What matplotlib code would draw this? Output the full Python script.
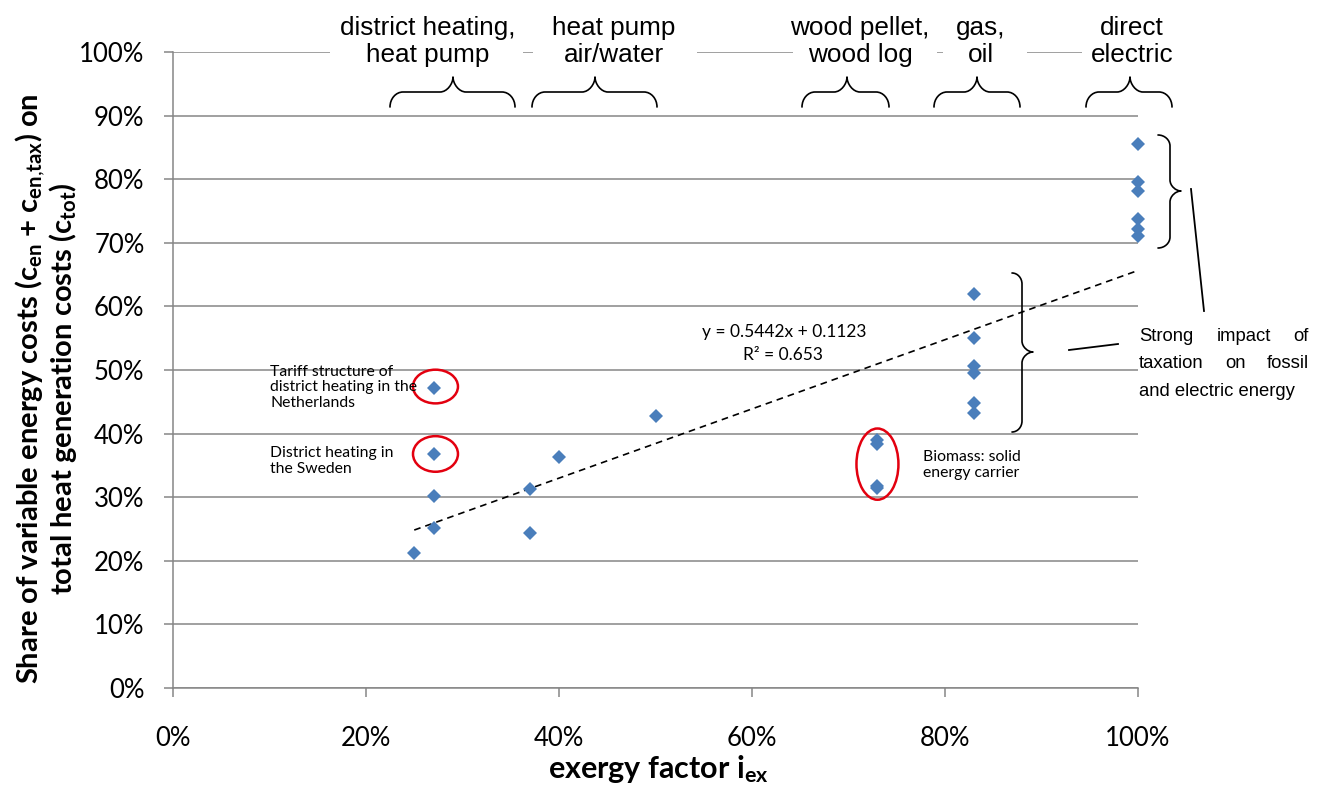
import matplotlib
matplotlib.use("Agg")
import matplotlib.pyplot as plt
from matplotlib.path import Path
from matplotlib.patches import PathPatch, Ellipse, Rectangle
from matplotlib.ticker import PercentFormatter, MultipleLocator

plt.rcParams["font.family"] = ["Lato", "DejaVu Sans"]
plt.rcParams["mathtext.fontset"] = "custom"
plt.rcParams["mathtext.rm"] = "Lato"
plt.rcParams["mathtext.it"] = "Lato:italic"
plt.rcParams["mathtext.bf"] = "Lato:bold"

# ---- data: exergy factor vs. share of variable energy costs ----
dh_hp_x = [0.25, 0.27, 0.27, 0.27, 0.27]
dh_hp_y = [0.212, 0.472, 0.368, 0.302, 0.252]
hp_air_x = [0.37, 0.37, 0.40, 0.50]
hp_air_y = [0.313, 0.244, 0.363, 0.428]
wood_x = [0.73, 0.73, 0.73, 0.73]
wood_y = [0.390, 0.384, 0.318, 0.314]
gas_oil_x = [0.83, 0.83, 0.83, 0.83, 0.83, 0.83]
gas_oil_y = [0.619, 0.551, 0.506, 0.496, 0.448, 0.433]
electric_x = [1.0, 1.0, 1.0, 1.0, 1.0, 1.0]
electric_y = [0.855, 0.795, 0.782, 0.737, 0.721, 0.711]

trend_slope = 0.5442
trend_intercept = 0.1123
trend_r2 = 0.653
trend_range = [0.25, 1.0]

group_labels = ["district heating,\nheat pump", "heat pump\nair/water",
                "wood pellet,\nwood log", "gas,\noil", "direct\nelectric"]

W, H = 1329, 792
fig = plt.figure(figsize=(W / 100, H / 100), dpi=100)
fig.patch.set_facecolor("white")

# plot area (pixel layout)
L, R, T, B = 173, 1138, 52, 688
ax = fig.add_axes([L / W, 1 - B / H, (R - L) / W, (B - T) / H])
ax.set_xlim(0, 1)
ax.set_ylim(0, 1)

grid_c = "#868686"
ax.xaxis.set_major_locator(MultipleLocator(0.2))
ax.yaxis.set_major_locator(MultipleLocator(0.1))
ax.xaxis.set_major_formatter(PercentFormatter(1.0, decimals=0))
ax.yaxis.set_major_formatter(PercentFormatter(1.0, decimals=0))
ax.yaxis.grid(True, color=grid_c, linewidth=1.1)
ax.set_axisbelow(True)
for s in ["top", "right"]:
    ax.spines[s].set_visible(False)
for s in ["left", "bottom"]:
    ax.spines[s].set_color(grid_c)
    ax.spines[s].set_linewidth(1.1)
ax.tick_params(axis="both", direction="out", length=6.5, width=1.1,
               color=grid_c, labelsize=18.5, labelcolor="black")
ax.tick_params(axis="x", pad=21)
ax.tick_params(axis="y", pad=14)

# scatter points
all_x = dh_hp_x + hp_air_x + wood_x + gas_oil_x + electric_x
all_y = dh_hp_y + hp_air_y + wood_y + gas_oil_y + electric_y
ax.plot(all_x, all_y, linestyle="none", marker="D", markersize=7.5,
        color="#4A7EBB", markeredgewidth=0, zorder=4, clip_on=False)

# linear trend line
tx = trend_range
ty = [trend_slope * v + trend_intercept for v in tx]
ax.plot(tx, ty, color="black", linewidth=1.2, linestyle=(0, (4, 3)), zorder=3)

# red highlight ellipses
ax.add_patch(Ellipse((dh_hp_x[1] + 0.002, dh_hp_y[1] + 0.002), 0.0466, 0.053,
                     fill=False, edgecolor="#E3000F", linewidth=1.8, zorder=5))
ax.add_patch(Ellipse((dh_hp_x[2] + 0.002, dh_hp_y[2]), 0.0466, 0.056,
                     fill=False, edgecolor="#E3000F", linewidth=1.8, zorder=5))
ax.add_patch(Ellipse((wood_x[0], (max(wood_y) + min(wood_y)) / 2), 0.0435, 0.112,
                     fill=False, edgecolor="#E3000F", linewidth=1.8, zorder=5))

# overlay in pixel coordinates for annotations
ov = fig.add_axes([0, 0, 1, 1], zorder=5)
ov.set_xlim(0, W)
ov.set_ylim(H, 0)
ov.axis("off")
ov.patch.set_alpha(0)


def brace(a0, a1, ac, c_end, c_spine, c_tip, r, vertical=False):
    k = 0.552
    pts = [(a0, c_end),
           (a0, c_end + k * (c_spine - c_end)), (a0 + r - k * r, c_spine), (a0 + r, c_spine),
           (ac - r, c_spine),
           (ac - r + k * r, c_spine), (ac, c_spine + k * (c_tip - c_spine)), (ac, c_tip),
           (ac, c_spine + k * (c_tip - c_spine)), (ac + r - k * r, c_spine), (ac + r, c_spine),
           (a1 - r, c_spine),
           (a1 - r + k * r, c_spine), (a1, c_end + k * (c_spine - c_end)), (a1, c_end)]
    codes = ([Path.MOVETO] + [Path.CURVE4] * 3 + [Path.LINETO] + [Path.CURVE4] * 6
             + [Path.LINETO] + [Path.CURVE4] * 3)
    if vertical:
        pts = [(c, a) for a, c in pts]
    ov.add_patch(PathPatch(Path(pts, codes), fill=False, edgecolor="black",
                           linewidth=1.2, capstyle="round", joinstyle="round"))


# category labels above the plot, with white boxes over the top gridline
label_boxes = [(330, 523), (533, 697), (793, 937), (943, 1027), (1082, 1190)]
label_cx = [428, 614, 860, 981, 1132]
for (b0, b1), cx, txt in zip(label_boxes, label_cx, group_labels):
    ov.add_patch(Rectangle((b0, 40), b1 - b0, 24, facecolor="white",
                           edgecolor="none"))
    ov.text(cx, 62, txt, ha="center", va="baseline", multialignment="center",
            fontsize=18.8, family=["Liberation Sans", "DejaVu Sans"], linespacing=1.15)

# horizontal braces under the category labels
for a0, a1, ac in [(390, 515, 453), (532, 657, 595), (802, 889, 847),
                   (934, 1020, 977), (1086, 1172, 1130)]:
    brace(a0, a1, ac, 107, 92, 77, 13)

# vertical braces to the right of the electric and fossil groups
brace(135, 248, 191, 1158, 1170, 1181, 11, vertical=True)
brace(273, 432, 352, 1012, 1022, 1033, 11, vertical=True)
ov.plot([1191, 1204], [189, 311], color="black", linewidth=1.3)
ov.plot([1069, 1118], [350, 344], color="black", linewidth=1.3)

# justified note on the right
note_lines = [["Strong", "impact", "of"], ["taxation", "on", "fossil"],
              ["and electric energy"]]
note_base = [341, 368, 396]
nx0, nx1 = 1139, 1309
fig.canvas.draw()
rend = fig.canvas.get_renderer()
nfont = dict(fontsize=13.3, family=["Liberation Sans", "DejaVu Sans"])
for words, yb in zip(note_lines, note_base):
    if len(words) == 1:
        ov.text(nx0, yb, words[0], ha="left", va="baseline", **nfont)
        continue
    texts = [ov.text(0, yb, w, ha="left", va="baseline", **nfont) for w in words]
    widths = [t.get_window_extent(rend).width for t in texts]
    gap = (nx1 - nx0 - sum(widths)) / (len(words) - 1)
    x = nx0
    for t, wdt in zip(texts, widths):
        t.set_x(x)
        x += wdt + gap

# regression equation
ov.text(784, 337, "y = 0.5442x + 0.1123", ha="center", va="baseline", fontsize=12.5)
ov.text(783, 360, "R² = %.3f" % trend_r2, ha="center", va="baseline", fontsize=12.5)

# small notes
ov.text(270, 407, "Tariff structure of\ndistrict heating in the\nNetherlands",
        ha="left", va="baseline", fontsize=11.3, linespacing=1.15)
ov.text(270, 473, "District heating in\nthe Sweden",
        ha="left", va="baseline", fontsize=11.3, linespacing=1.15)
ov.text(923, 477, "Biomass: solid\nenergy carrier",
        ha="left", va="baseline", fontsize=11.3, linespacing=1.15)

# axis titles
ov.text(658, 778, r"exergy factor $\mathbf{i}_{\mathbf{ex}}$", ha="center",
        va="baseline", fontsize=22, fontweight="bold")
ov.text(46, 389,
        "Share of variable energy costs ($\\mathbf{c}_{\\mathbf{en}}$ + "
        "$\\mathbf{c}_{\\mathbf{en}{,}\\mathbf{tax}}$) on\ntotal heat generation costs "
        "($\\mathbf{c}_{\\mathbf{tot}}$)",
        ha="center", va="center", rotation=90, multialignment="center",
        fontsize=21, fontweight="bold", linespacing=1.0)

fig.savefig("out.png", dpi=100, facecolor="white")
